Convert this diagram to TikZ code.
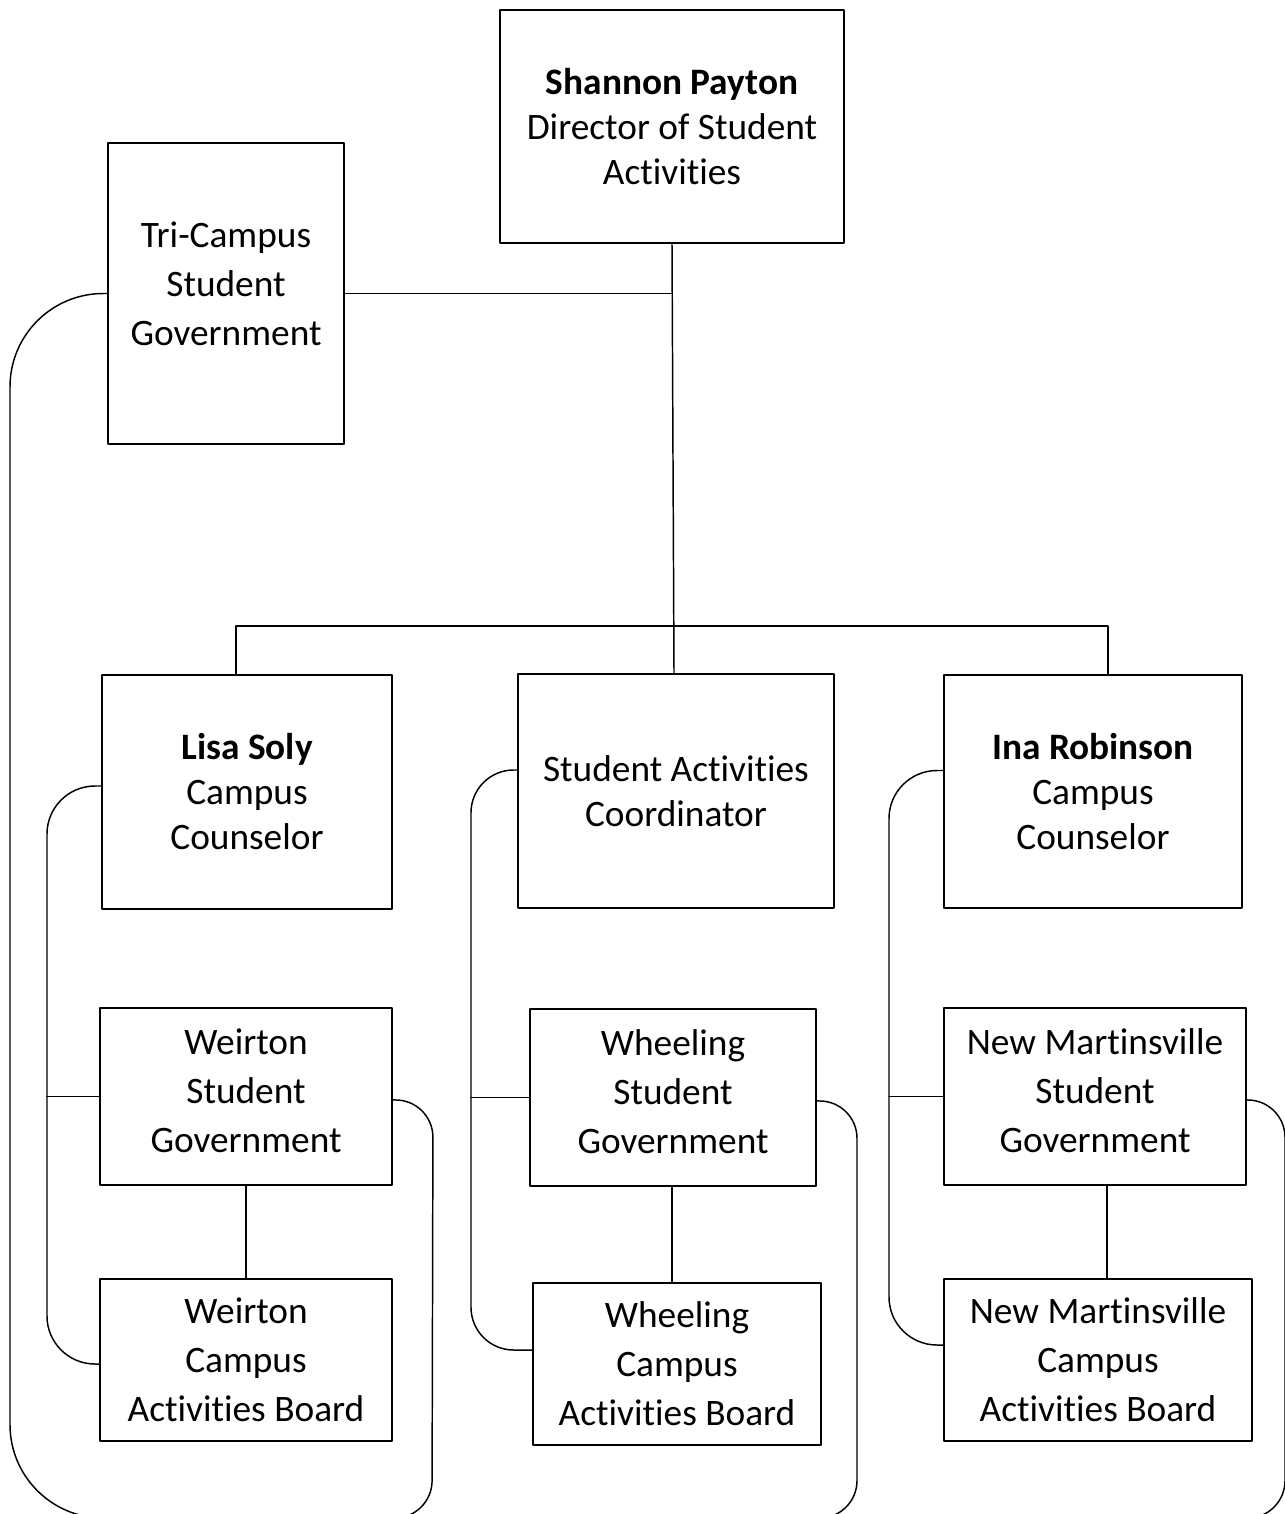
\documentclass[tikz,border=0pt]{standalone}
\usepackage{fontspec}
\setmainfont{Carlito}[Ligatures=CommonOff]

\begin{document}
\begin{tikzpicture}[x=0.75pt, y=-0.75pt, line cap=round, line join=round,
    box/.style={draw, line width=1.5pt, inner sep=0pt, align=center,
        font=\fontsize{28}{33.75}\selectfont},
    tallbox/.style={box, font=\fontsize{28}{36.75}\selectfont},
    link/.style={line width=1.1pt}]
    \clip (0,0) rectangle (1285,1514);

    % Director and tri-campus government
    \node[box, minimum width=258pt, minimum height=174.75pt] (shannon) at (672,126.5)
        {\textbf{Shannon Payton}\\Director of Student\\Activities};
    \node[tallbox, minimum width=177pt, minimum height=225.75pt, text depth=15pt] (tri) at (226,293.5)
        {Tri-Campus\\Student\\Government};

    % Middle row: counselors and coordinator
    \node[box, minimum width=217.5pt, minimum height=175.5pt] (lisa) at (247,792)
        {\textbf{Lisa Soly}\\Campus\\Counselor};
    \node[box, minimum width=237pt, minimum height=175.5pt] (coord) at (676,791)
        {Student Activities\\Coordinator};
    \node[box, minimum width=223.5pt, minimum height=174.75pt] (ina) at (1093,791.5)
        {\textbf{Ina Robinson}\\Campus\\Counselor};

    % Campus student governments
    \node[tallbox, minimum width=219pt, minimum height=132.75pt, text depth=9pt] (wsg) at (246,1096.5)
        {Weirton\\Student\\Government};
    \node[tallbox, minimum width=214.5pt, minimum height=132.75pt, text depth=9pt] (whsg) at (673,1097.5)
        {Wheeling\\Student\\Government};
    \node[tallbox, minimum width=226.5pt, minimum height=132.75pt, text depth=9pt] (nmsg) at (1095,1096.5)
        {New Martinsville\\Student\\Government};

    % Campus activities boards
    \node[tallbox, minimum width=219pt, minimum height=121.5pt] (wcab) at (246,1360)
        {Weirton\\Campus\\Activities Board};
    \node[tallbox, minimum width=216pt, minimum height=121.5pt] (whcab) at (677,1364)
        {Wheeling\\Campus\\Activities Board};
    \node[tallbox, minimum width=231pt, minimum height=121.5pt] (nmcab) at (1098,1360)
        {New Martinsville\\Campus\\Activities Board};

    % Helper points (bus and the loops below the page)
    \coordinate (bus) at (672,626);
    \coordinate (lowL) at (10,1518);
    \coordinate (whend) at (700,1518);
    \coordinate (nmend) at (1150,1518);

    % Main tree
    \draw[link] (shannon.south) -- ([xshift=-1.5pt]coord.north);
    \draw[link] (tri.east) -- (tri.east -| shannon.south);
    \draw[link] ([xshift=-8.25pt]lisa.north) -- ([xshift=-8.25pt]lisa.north |- bus)
        -- ([xshift=11.25pt]ina.north |- bus) -- ([xshift=11.25pt]ina.north);

    % Government to board
    \foreach \sg/\cab/\dx in {wsg/wcab/0pt, whsg/whcab/-0.75pt, nmsg/nmcab/9pt}{
        \draw[link] ([xshift=\dx]\sg.south) -- ([xshift=\dx]\sg.south |- \cab.north);
    }

    % Brackets on the left of each column
    \draw[link, rounded corners=36pt] ([yshift=4.5pt]lisa.west) -- ++(-54,0)
        |- ([yshift=-3pt]wcab.west);
    \draw[link] (wsg.west) -- ++(-52,0);
    \draw[link, rounded corners=32pt] ([yshift=15.75pt]coord.west) -- ++(-46,0)
        |- ([yshift=10.5pt]whcab.west);
    \draw[link] (whsg.west) -- ++(-58,0);
    \draw[link, rounded corners=36pt] ([yshift=15.75pt]ina.west) -- ++(-54,0)
        |- ([yshift=11.25pt]nmcab.west);
    \draw[link] (nmsg.west) -- ++(-54,0);

    % Loops running off the bottom of the page
    \draw[link] (tri.west) [rounded corners=70pt] -- (tri.west -| lowL) -- (lowL)
        [rounded corners=28pt] -- ++(422,0) -- ([xshift=30pt,yshift=-2.6pt]wsg.east)
        -- ([yshift=-2.6pt]wsg.east);
    \draw[link, rounded corners=28pt] ([yshift=-2.6pt]whsg.east) -- ++(40,0) |- (whend);
    \draw[link, rounded corners=28pt] ([yshift=-2.6pt]nmsg.east) -- ++(38,0) |- (nmend);

\end{tikzpicture}
\end{document}
